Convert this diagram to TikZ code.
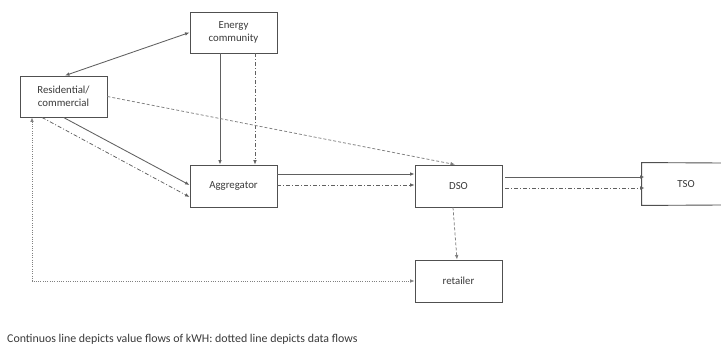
\documentclass[tikz,border=0pt]{standalone}
\usepackage{fontspec}
\setmainfont{Carlito}
\usetikzlibrary{arrows.meta,calc}
\definecolor{boxline}{HTML}{505050}
\definecolor{txt}{HTML}{3A3A3A}
\definecolor{flow}{HTML}{606060}
\definecolor{dataflow}{HTML}{808080}
\tikzset{
  actor/.style={draw=boxline, line width=0.9pt, fill=white, text=txt,
    minimum width=87pt, minimum height=41pt, inner sep=0pt,
    align=center, font=\fontsize{10.8}{12.8}\selectfont},
  tip/.style={-{Latex[length=4.5pt,width=3.6pt]}},
  both/.style={{Latex[length=4.5pt,width=3.6pt]}-{Latex[length=4.5pt,width=3.6pt]}},
  value/.style={draw=flow, line width=0.85pt},
  dashdot/.style={draw=flow, line width=0.75pt, dash pattern=on 4pt off 2pt on 1pt off 2pt},
  dashline/.style={draw=dataflow, line width=0.75pt, dash pattern=on 3pt off 2pt},
  dotline/.style={draw=dataflow, line width=0.75pt, dash pattern=on 1pt off 1.3pt}
}
\begin{document}
\begin{tikzpicture}[x=1pt,y=-1pt]
\useasboundingbox[fill=white] (0,0) rectangle (721,345);

% actors
\node[actor] (ec)  at (233.5,32.5) {Energy\\community};
\node[actor] (res) at (63.5,96.5)  {Residential/\\commercial};
\node[actor, minimum height=42pt] (agg) at (233.5,186) {Aggregator};
\node[actor, minimum height=42pt] (dso) at (458.5,186) {DSO};
\node[actor, minimum height=42pt] (ret) at (458.5,281) {retailer};
% the TSO box runs on past the right margin: only three sides show
\node[actor, draw=none, minimum width=88pt, minimum height=42pt] (tso) at (686,184) {TSO};
\draw[boxline, line width=0.9pt] (721,163) -- (tso.north west) -- (tso.south west) -- (721,205);

% value flows (continuous) and data flows (broken)
\draw[value, both] ([xshift=1.5pt]res.north) -- (ec.west);
\draw[value, tip] ([xshift=-13.5pt]ec.south) -- ([xshift=-13.5pt]agg.north);
\draw[dashdot, tip] ([xshift=21.5pt]ec.south) -- ([xshift=21.5pt]agg.north);
\draw[value, tip] (res.south) -- ([yshift=1pt]agg.west);
\draw[dashdot, tip] ([xshift=-21.5pt]res.south) -- ([yshift=-11pt]agg.west);
\draw[dashline, tip] (res.east) -- ([xshift=-3.5pt]dso.north);
\draw[value, tip] ([yshift=12pt]agg.east) -- ([yshift=12pt]dso.west);
\draw[dashdot, tip] ([yshift=1pt]agg.east) -- ([yshift=1pt]dso.west);
\draw[value, tip] ([xshift=3pt,yshift=9pt]dso.east) -- ([xshift=3pt,yshift=9pt]dso.east -| tso.west);
\draw[dashdot, tip] ([xshift=3pt,yshift=-2pt]dso.east) -- ([xshift=3pt,yshift=-2pt]dso.east -| tso.west);
\draw[dashline, tip] ([xshift=-5.5pt]dso.south) -- ([xshift=-1.5pt]ret.north);
\draw[dotline, both] ([xshift=-31.5pt]res.south) |- (ret.west);

% caption
\node[anchor=base west, inner sep=0pt, text=txt, font=\fontsize{11.9}{14}\selectfont] (cap) at (7,342)
  {Continuos line depicts value flows of kWH: dotted line depicts data flows};
\end{tikzpicture}
\end{document}
